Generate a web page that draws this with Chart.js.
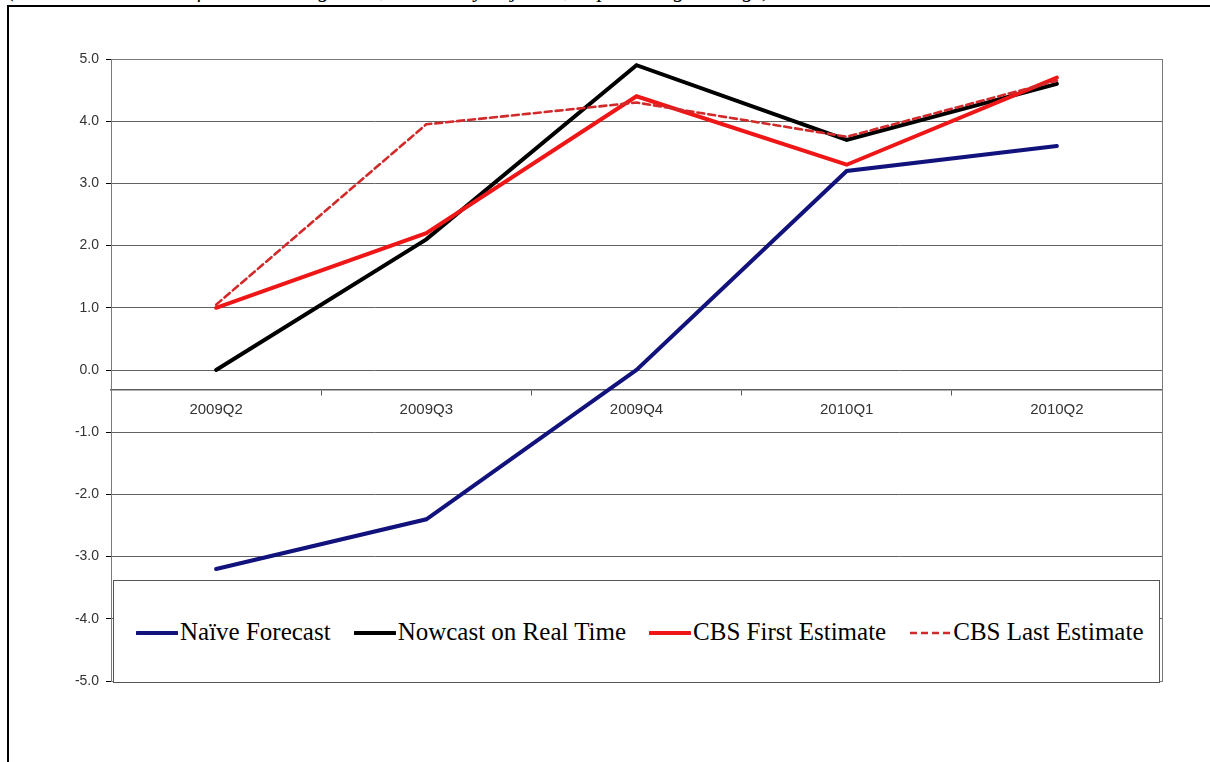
<!DOCTYPE html>
<html>
<head>
<meta charset="utf-8">
<title>Nowcast vs CBS estimates</title>
<script src="https://cdn.jsdelivr.net/npm/chart.js@4.4.1/dist/chart.umd.min.js"></script>
<style>
  html, body { margin: 0; padding: 0; background: #fff; }
  body { width: 1210px; height: 762px; position: relative; overflow: hidden; }
  #frame { position: absolute; left: 7px; top: 5px; width: 1210px; height: 770px;
           border-left: 2px solid #000; border-top: 2px solid #000; box-sizing: border-box; }
  #caption { position: absolute; left: 8px; top: 0; width: 900px; height: 5px; overflow: hidden; }
  #caption span { display: block; margin-top: -21px; font: italic 22px "Liberation Serif", "Times New Roman", serif;
                  line-height: 22px; white-space: nowrap; color: #000; }
  #chartWrap { position: absolute; left: 0; top: 0; width: 1210px; height: 762px; }
  #legend { position: absolute; left: 113px; top: 580px; width: 1047px; height: 103px; box-sizing: border-box;
            border: 1px solid #555; background: #fff; display: flex; align-items: center;
            padding-left: 22px; font: 25px "Liberation Serif", "Times New Roman", serif; color: #000; }
  .item { display: flex; align-items: center; margin-right: 23px; white-space: nowrap; }
  .item svg { margin-right: 2px; margin-top: 2px; }
</style>
</head>
<body>
<div id="caption"><span>(Realtime estimates of Dutch GDP growth, seasonally adjusted, in percentage change)</span></div>
<div id="frame"></div>
<div id="chartWrap"><canvas id="c" width="1210" height="762"></canvas></div>
<div id="legend"></div>
<script>
// Quarters on the category axis
const categories = ['2009Q2', '2009Q3', '2009Q4', '2010Q1', '2010Q2'];

// GDP growth, % (per series)
const naiveForecast    = [-3.2, -2.4, 0.0, 3.2, 3.6];
const nowcastRealTime  = [0.0, 2.1, 4.9, 3.7, 4.6];
const cbsFirstEstimate = [1.0, 2.2, 4.4, 3.3, 4.7];
const cbsLastEstimate  = [1.05, 3.95, 4.3, 3.75, 4.65];

const seriesNames = ['Naïve Forecast', 'Nowcast on Real Time', 'CBS First Estimate', 'CBS Last Estimate'];

// Value axis range and step
const yMin = -5;
const yMax = 5;
const yStep = 1;
const xAxisCrossing = -0.32;

const datasets = [
  { label: seriesNames[0], data: naiveForecast, borderColor: '#12127c', borderWidth: 4, order: 4 },
  { label: seriesNames[1], data: nowcastRealTime, borderColor: '#000000', borderWidth: 4, order: 3 },
  { label: seriesNames[2], data: cbsFirstEstimate, borderColor: '#ee1616', borderWidth: 4, order: 2 },
  { label: seriesNames[3], data: cbsLastEstimate, borderColor: '#d22a2a', borderWidth: 2.6, borderDash: [7, 4], order: 1 }
].map(d => Object.assign({ pointRadius: 0, pointHoverRadius: 0, tension: 0, fill: false, borderCapStyle: 'round' }, d));

// Grey frame around the plot area
const plotFrame = {
  id: 'plotFrame',
  beforeDatasetsDraw(chart) {
    const a = chart.chartArea, ctx = chart.ctx;
    ctx.save();
    ctx.strokeStyle = '#7a7a7a';
    ctx.lineWidth = 1;
    ctx.strokeRect(Math.round(a.left) + 0.5, Math.round(a.top) + 0.5,
                   Math.round(a.right - a.left), Math.round(a.bottom - a.top));
    ctx.restore();
  }
};

const chart = new Chart(document.getElementById('c'), {
  type: 'line',
  data: { labels: categories, datasets },
  plugins: [plotFrame],
  options: {
    responsive: false,
    animation: false,
    events: [],
    layout: { padding: { left: 0, top: 59, right: 48, bottom: 81 } },
    plugins: { legend: { display: false }, tooltip: { enabled: false } },
    scales: {
      y: {
        min: yMin, max: yMax,
        afterFit(scale) { scale.width = 111; },
        ticks: {
          stepSize: yStep,
          padding: 7,
          color: '#333',
          font: { family: 'Liberation Sans, Arial, sans-serif', size: 14 },
          callback: v => Number(v).toFixed(1)
        },
        grid: { color: '#626262', lineWidth: 1, drawTicks: true, tickLength: 5, tickColor: '#000' },
        border: { display: true, color: '#000', width: 1 }
      },
      x: {
        position: { y: xAxisCrossing },
        offset: true,
        ticks: {
          padding: 6,
          color: '#333',
          font: { family: 'Liberation Sans, Arial, sans-serif', size: 15 },
          maxRotation: 0
        },
        grid: { offset: true, drawOnChartArea: false, drawTicks: true, tickLength: 5, tickColor: '#555' },
        border: { display: true, color: '#5e5e5e', width: 1.5 }
      }
    }
  }
});

// Legend built from the chart's own datasets
const legendEl = document.getElementById('legend');
chart.data.datasets.forEach(ds => {
  const item = document.createElement('div');
  item.className = 'item';
  const dash = ds.borderDash ? `stroke-dasharray="${ds.borderDash.join(' ')}"` : '';
  const w = ds.borderDash ? 2.6 : 4;
  item.innerHTML =
    `<svg width="42" height="10"><line x1="1" y1="5" x2="41" y2="5" stroke="${ds.borderColor}" stroke-width="${w}" ${dash} stroke-linecap="${ds.borderDash ? 'butt' : 'round'}"/></svg>` +
    `<span>${ds.label}</span>`;
  legendEl.appendChild(item);
});
</script>
</body>
</html>
